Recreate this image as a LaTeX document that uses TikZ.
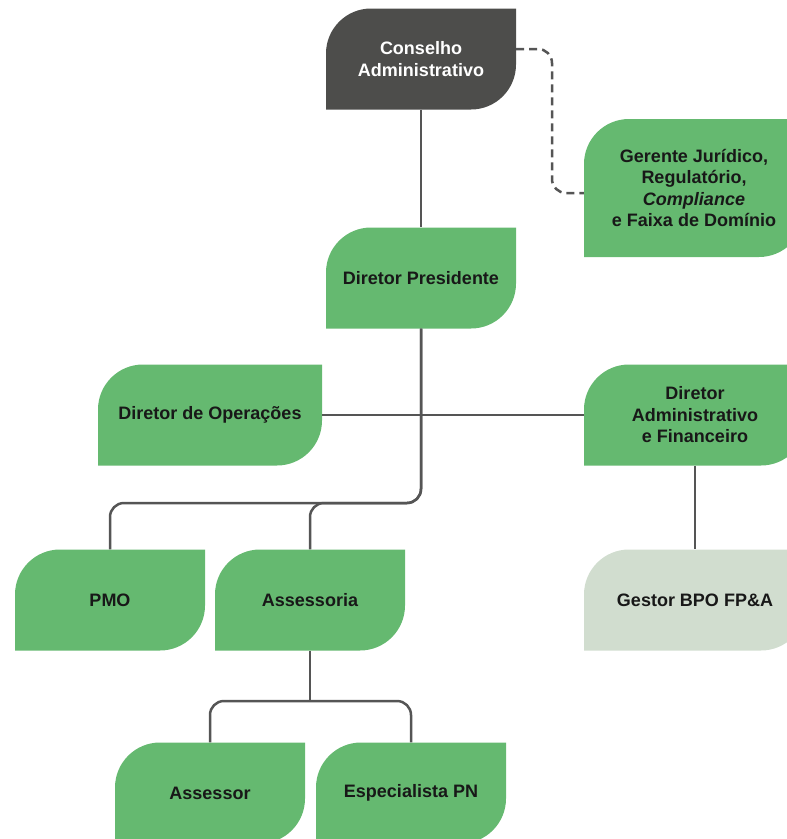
\documentclass[tikz,border=0pt]{standalone}
\usepackage{fontspec}
\setmainfont{Liberation Sans}
\usetikzlibrary{positioning, calc}

\definecolor{boxgreen}{RGB}{101,185,112}
\definecolor{boxdark}{RGB}{77,77,75}
\definecolor{boxlight}{RGB}{209,221,207}
\definecolor{linegray}{RGB}{85,85,85}
\definecolor{textdark}{RGB}{24,24,24}

\begin{document}
\begin{tikzpicture}[
    x=1pt, y=-1pt,
    % Leaf-shaped boxes: only top-left and bottom-right corners rounded
    unit_box/.style={rectangle, inner sep=0pt, minimum width=190pt, minimum height=101pt, align=center,
        font=\fontsize{18}{21.5}\selectfont\bfseries, text=textdark,
        path picture={\fill[#1] (path picture bounding box.south west)
            -- ([yshift=-45pt]path picture bounding box.north west) arc[start angle=180, end angle=90, radius=45pt]
            -- (path picture bounding box.north east)
            -- ([yshift=45pt]path picture bounding box.south east) arc[start angle=0, end angle=-90, radius=45pt]
            -- cycle;}},
    unit_box/.default=boxgreen,
    board_box/.style={unit_box=boxdark, text=white},
    wide_box/.style={unit_box=#1, minimum width=222pt},
    wide_box/.default=boxgreen,
    % Connector styles
    org_link/.style={draw=linegray, line width=2.5pt, rounded corners=14pt},
    advisory_link/.style={org_link, dash pattern=on 8pt off 5pt}
]
    \clip (0,0) rectangle (787,839);

    % ==================== Top: board and president ====================
    \node (conselho) [board_box] at (421,59) {Conselho\\Administrativo};
    \node (gerente_jur) [wide_box, minimum width=220pt, minimum height=138pt] at (694,188)
        {Gerente Jurídico,\\Regulatório,\\\textit{Compliance}\\e Faixa de Domínio};
    \node (presidente) [unit_box] at (421,278) {Diretor Presidente};

    % ==================== Directors ====================
    \node (dir_op) [wide_box, minimum width=224pt] at (210,415) {Diretor de Operações};
    \node (dir_adm) [wide_box] at (695,415) {Diretor\\Administrativo\\e Financeiro};

    % ==================== Lower units ====================
    \node (pmo) [unit_box] at (110,600) {PMO};
    \node (assessoria) [unit_box] at (310,600) {Assessoria};
    \node (gestor_bpo) [wide_box=boxlight] at (695,600) {Gestor BPO FP\&A};
    \node (assessor) [unit_box] at (210,793) {Assessor};
    \node (especialista) [unit_box] at (411,793) {Especialista PN};

    % Bus heights
    \coordinate (bus_top) at (0,503);
    \coordinate (bus_low) at (0,701);
    \coordinate (dash_bend) at (552,0);
    \coordinate (legal_in) at ([yshift=-5pt]gerente_jur.west);

    % Main lines
    \draw [org_link] (conselho) -- (presidente);
    \draw [org_link] (dir_op.east) -- (dir_adm.west);
    \draw [org_link] (presidente.south) |- (pmo.north |- bus_top) -- (pmo.north);
    \draw [org_link] (presidente.south) |- (assessoria.north |- bus_top) -- (assessoria.north);
    \draw [org_link] (dir_adm) -- (gestor_bpo);

    % Assessoria team
    \draw [org_link] (assessoria.south) -- (assessoria.south |- bus_low);
    \draw [org_link] (assessor.north) |- (especialista.north |- bus_low) -- (especialista.north);

    % Advisory (dashed) link to legal
    \draw [advisory_link] ([yshift=10pt]conselho.east) -| (dash_bend |- legal_in) -- (legal_in);

\end{tikzpicture}
\end{document}
